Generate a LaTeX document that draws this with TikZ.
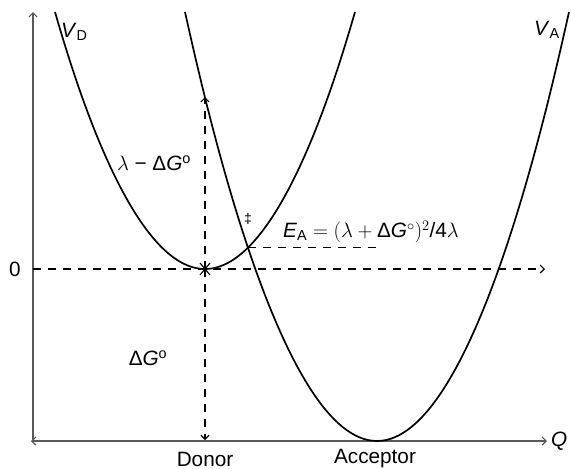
\documentclass[tikz,border=0pt]{standalone}
\usepackage{fontspec}
\setmainfont{Liberation Sans}
\usetikzlibrary{arrows.meta}
\begin{document}
\begin{tikzpicture}[x=1pt,y=-1pt,
  lbl/.style={font=\fontsize{20.74}{24}\selectfont, inner sep=0pt},
  curve/.style={line width=1.7pt},
  axisline/.style={line width=1.6pt, draw=black!65},
  dsh/.style={line width=1.3pt, dash pattern=on 8pt off 7pt},
  tipstyle/.style={-{Straight Barb[length=4pt,width=8pt,line width=1.2pt]}}]
\useasboundingbox (0,0) rectangle (571,469);
% coordinates
\coordinate (O) at (33,441);
\coordinate (Ytop) at (33,12);
\coordinate (Xl) at (31,441);
\coordinate (Xr) at (547,441);
\coordinate (Zl) at (33,269);
\coordinate (Zr) at (545,269);
\coordinate (M) at (205,269);
\coordinate (Mup) at (205,97);
\coordinate (Mdn) at (205,440);
\coordinate (X) at (248,247.5);
\coordinate (Xend) at (380,247.5);
% axes
\draw[axisline,tipstyle] (O) -- (Ytop);
\draw[axisline,{Straight Barb[length=4pt,width=8pt,line width=1.2pt]}-{Straight Barb[length=4pt,width=8pt,line width=1.2pt]}] (Xl) -- (Xr);
% dashed lines
\draw[dsh,tipstyle] (Zl) -- (Zr);
\draw[dsh,tipstyle] (M) -- (Mup);
\draw[dsh,tipstyle] (M) -- (Mdn);
\draw[dsh] (X) -- (Xend);
% parabolas
\draw[curve] (55,12) parabola bend (205,269) (355,12);
\draw[curve] (185,12) parabola bend (377,441) (569,12);
% star at donor minimum
\draw[line width=1.1pt] (M) +(-5,-6) -- +(5,6);
\draw[line width=1.1pt] (M) +(-5,6) -- +(5,-6);
\draw[line width=1.1pt] (M) +(0,-8) -- +(0,8);
% labels
\node[lbl] (zero) at (15,269) {0};
\node[lbl,anchor=west] (Q) at (551,441) {\textit{Q}};
\node[lbl,anchor=base] (donor) at (205,466) {Donor};
\node[lbl,anchor=base] (acceptor) at (375,463) {Acceptor};
\node[lbl,anchor=west] (VD) at (61,32) {\textit{V}\textsubscript{D}};
\node[lbl,anchor=west] (VA) at (534,30) {\textit{V}\textsubscript{A}};
\node[lbl] (lamdg) at (154,163) {$\lambda$ − Δ\textit{G}\textsuperscript{o}};
\node[lbl] (dg) at (148,358) {Δ\textit{G}\textsuperscript{o}};
\node[font=\fontsize{14}{15}\selectfont, inner sep=0pt] (dagger) at (248,219) {‡};
\node[lbl] (ea) at (371,232) {\textit{E}\textsubscript{A} $=(\lambda+{}$Δ\textit{G}$^\circ)^2$/4$\lambda$};
\end{tikzpicture}
\end{document}
